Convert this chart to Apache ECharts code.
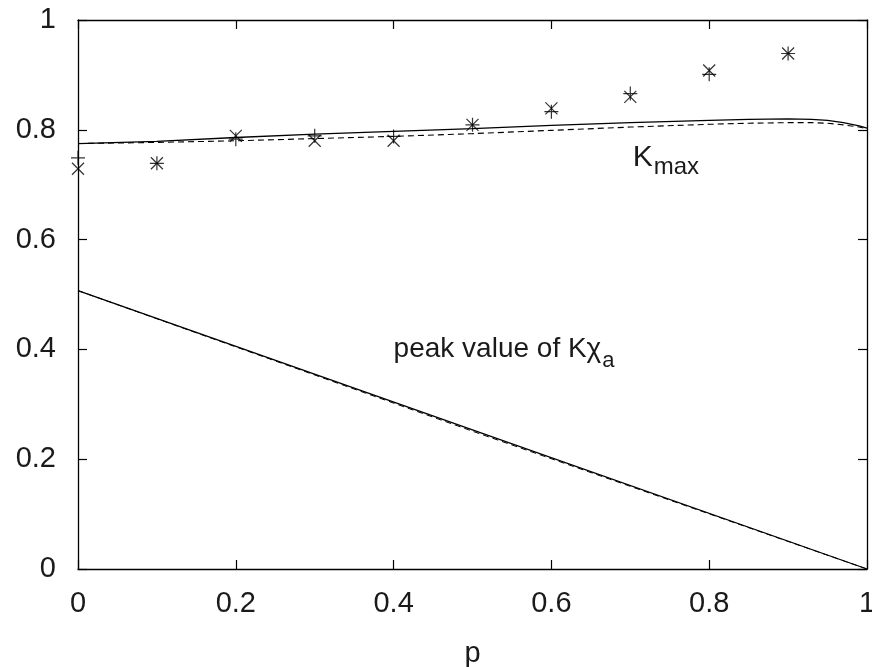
<!DOCTYPE html>
<html>
<head>
<meta charset="utf-8">
<script src="https://cdn.jsdelivr.net/npm/echarts@6/dist/echarts.min.js"></script>
<style>html,body{margin:0;padding:0;background:#fff}#c{width:872px;height:667px}</style>
</head>
<body>
<div id="c"></div>
<script>
// ---- data ----
const pPoints = [0, 0.1, 0.2, 0.3, 0.4, 0.5, 0.6, 0.7, 0.8, 0.9];
const plusVals = [0.749, 0.739, 0.783, 0.789, 0.788, 0.809, 0.833, 0.866, 0.901, 0.939];
const crossVals = [0.729, 0.739, 0.789, 0.780, 0.780, 0.809, 0.839, 0.860, 0.908, 0.939];

const kmaxP      = [0, 0.1, 0.2, 0.3, 0.4, 0.5, 0.6, 0.7, 0.8, 0.85, 0.9, 0.93, 0.95, 0.97, 0.99, 1.0];
const kmaxSolid  = [0.775, 0.779, 0.786, 0.792, 0.797, 0.802, 0.808, 0.813, 0.817, 0.819, 0.820, 0.819, 0.817, 0.813, 0.807, 0.803];
const kmaxDashed = [0.775, 0.777, 0.780, 0.784, 0.788, 0.793, 0.799, 0.805, 0.810, 0.812, 0.813, 0.813, 0.812, 0.809, 0.805, 0.802];

const peakP      = [0, 0.5, 1.0];
const peakSolid  = [0.507, 0.2535, 0.0];
const peakDashed = [0.507, 0.251, 0.0];

const xTicks = [0, 0.2, 0.4, 0.6, 0.8, 1];
const yTicks = [0, 0.2, 0.4, 0.6, 0.8, 1];
const xTickLabels = ['0', '0.2', '0.4', '0.6', '0.8', '1'];
const yTickLabels = ['0', '0.2', '0.4', '0.6', '0.8', '1'];
const xName = 'p';

// ---- chart ----
const FONT = '"Liberation Sans", Arial, Helvetica, sans-serif';
const TXT = '#1a1a1a';
const zip = (xs, ys) => xs.map((x, i) => [x, ys[i]]);
const fmt = (labels, ticks) => v => {
  const i = ticks.findIndex(t => Math.abs(t - v) < 1e-9);
  return i >= 0 ? labels[i] : '';
};

const chart = echarts.init(document.getElementById('c'), null, {renderer: 'canvas'});

const axisCommon = {
  min: 0, max: 1, interval: 0.2,
  axisLine: {show: true, onZero: false, lineStyle: {color: '#000', width: 1.3}},
  axisTick: {show: true, inside: true, length: 9, lineStyle: {color: '#000', width: 1.2}},
  splitLine: {show: false}
};

const crossPath = 'path://M0,0L10,10M0,10L10,0';
const plusPath = 'path://M5,0L5,10M0,5L10,5';

chart.setOption({
  animation: false,
  backgroundColor: '#fff',
  grid: {left: 78, right: 5, top: 20, bottom: 98, containLabel: false, outerBoundsMode: 'none'},
  xAxis: [
    Object.assign({}, axisCommon, {
      type: 'value', position: 'bottom',
      name: xName, nameLocation: 'middle', nameGap: 70,
      nameTextStyle: {fontFamily: FONT, fontSize: 29, color: TXT},
      axisLabel: {margin: 20, fontFamily: FONT, fontSize: 29, color: TXT,
                  formatter: fmt(xTickLabels, xTicks)}
    }),
    Object.assign({}, axisCommon, {
      type: 'value', position: 'top', axisLabel: {show: false}
    })
  ],
  yAxis: [
    Object.assign({}, axisCommon, {
      type: 'value', position: 'left',
      axisLabel: {margin: 22, fontFamily: FONT, fontSize: 29, color: TXT,
                  formatter: fmt(yTickLabels, yTicks)}
    }),
    Object.assign({}, axisCommon, {
      type: 'value', position: 'right', axisLabel: {show: false}
    })
  ],
  series: [
    {type: 'line', data: zip(kmaxP, kmaxSolid), showSymbol: false,
     lineStyle: {color: '#000', width: 1.3}, silent: true},
    {type: 'line', data: zip(kmaxP, kmaxDashed), showSymbol: false,
     lineStyle: {color: '#000', width: 1.1, type: [6, 4]}, silent: true},
    {type: 'line', data: zip(peakP, peakSolid), showSymbol: false,
     lineStyle: {color: '#000', width: 1.3}, silent: true},
    {type: 'line', data: zip(peakP, peakDashed), showSymbol: false,
     lineStyle: {color: '#000', width: 1.0, type: [6, 4]}, silent: true},
    {type: 'scatter', data: zip(pPoints, plusVals), symbol: plusPath, symbolSize: 14,
     itemStyle: {color: 'none', borderColor: '#000', borderWidth: 1.2}, silent: true},
    {type: 'scatter', data: zip(pPoints, crossVals), symbol: crossPath, symbolSize: 12,
     itemStyle: {color: 'none', borderColor: '#000', borderWidth: 1.2}, silent: true}
  ]
});

// ---- annotations (math labels with subscripts) ----
const ctx = document.createElement('canvas').getContext('2d');
function measure(text, size) { ctx.font = size + 'px ' + FONT; return ctx.measureText(text).width; }

function place(px, py, main, sub, size, subSize, subDrop) {
  const [x, y] = chart.convertToPixel({gridIndex: 0}, [px, py]);
  const w = measure(main, size);
  return [
    {type: 'text', x: x, y: y, silent: true,
     style: {text: main, font: size + 'px ' + FONT, fill: TXT, align: 'left', verticalAlign: 'bottom'}},
    {type: 'text', x: x + w + 1, y: y + subDrop, silent: true,
     style: {text: sub, font: subSize + 'px ' + FONT, fill: TXT, align: 'left', verticalAlign: 'bottom'}}
  ];
}

const g = [].concat(
  place(0.703, 0.721, 'K', 'max', 30, 24, 6),
  place(0.400, 0.375, 'peak value of Kχ', 'a', 28, 22, 9)
);
chart.setOption({graphic: g});
</script>
</body>
</html>
